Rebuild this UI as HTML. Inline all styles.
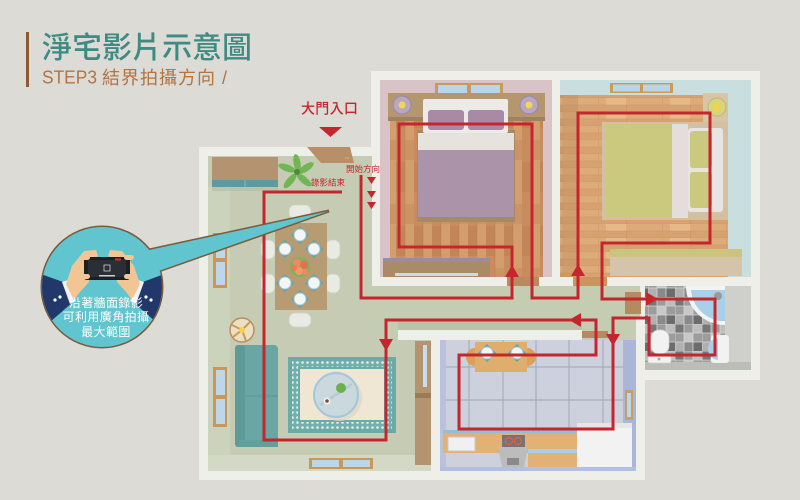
<!DOCTYPE html>
<html><head><meta charset="utf-8">
<style>
html,body{margin:0;padding:0;background:#dcdbd6;}
svg{display:block;}
text{font-family:"Liberation Sans","Noto Sans CJK TC",sans-serif;}
</style></head><body>
<svg width="800" height="500" viewBox="0 0 800 500" xmlns="http://www.w3.org/2000/svg">
<defs>
<pattern id="vplank" width="18" height="64" patternUnits="userSpaceOnUse">
 <rect width="18" height="64" fill="#c98c5f"/>
 <rect x="9" width="9" height="64" fill="#d39d6e"/>
 <rect x="0" y="34" width="9" height="30" fill="#c28558"/>
 <rect x="9" y="12" width="9" height="20" fill="#cc9464"/>
 <rect x="8.6" width="0.8" height="64" fill="#a86c44" opacity=".35"/>
</pattern>
<pattern id="hplank" width="64" height="14" patternUnits="userSpaceOnUse">
 <rect width="64" height="14" fill="#ddab79"/>
 <rect y="7" width="64" height="7" fill="#d7a270"/>
 <rect x="30" y="0" width="20" height="7" fill="#e6ba88"/>
 <rect y="6.6" width="64" height="0.7" fill="#b8825a" opacity=".35"/>
 <rect y="13.6" width="64" height="0.7" fill="#b8825a" opacity=".35"/>
 <rect x="22" y="0" width="0.7" height="7" fill="#b8825a" opacity=".4"/>
 <rect x="50" y="7" width="0.7" height="7" fill="#b8825a" opacity=".4"/>
</pattern>
<pattern id="tile" width="27" height="27" patternUnits="userSpaceOnUse">
 <rect width="27" height="27" fill="#9c9c9c"/>
 <rect width="9" height="9" fill="#767676"/>
 <rect x="18" y="0" width="9" height="9" fill="#bdbdbd"/>
 <rect x="9" y="9" width="9" height="9" fill="#c8c8c8"/>
 <rect x="0" y="18" width="9" height="9" fill="#b0b0b0"/>
 <rect x="18" y="18" width="9" height="9" fill="#6c6c6c"/>
 <rect x="9" y="18" width="9" height="9" fill="#8a8a8a"/>
 <path d="M0 0H27M0 9H27M0 18H27M0 0V27M9 0V27M18 0V27" stroke="#d6d6d6" stroke-width="0.8"/>
</pattern>
<pattern id="rugdot" width="5" height="5" patternUnits="userSpaceOnUse">
 <rect width="5" height="5" fill="#72b0ad"/>
 <circle cx="2.5" cy="2.5" r="1.3" fill="#e9efe8"/>
</pattern>
<clipPath id="bub"><circle cx="102" cy="287" r="60"/></clipPath>
</defs>

<rect width="800" height="500" fill="#dcdbd6"/>

<!-- title -->
<rect x="26" y="32" width="3" height="55" fill="#8b5a32"/>
<text x="42" y="58" font-size="30" fill="#3d8b83" font-weight="500">淨宅影片示意圖</text>
<text x="42" y="83.5" font-size="18" fill="#b27440" textLength="55" lengthAdjust="spacingAndGlyphs">STEP3</text>
<text x="102" y="84" font-size="18" fill="#b27440" letter-spacing="1">結界拍攝方向</text>
<text x="222" y="84" font-size="18" fill="#b27440">/</text>

<!-- entrance -->
<text x="301" y="113.5" font-size="14" fill="#c4262e" font-weight="500" letter-spacing="0.3">大門入口</text>
<polygon points="319,127 342,127 330.5,137" fill="#c4262e"/>

<!-- wall footprints -->
<g fill="#efefea">
<rect x="199" y="147" width="173" height="333"/>
<rect x="371" y="71" width="389" height="215"/>
<rect x="371" y="280" width="274" height="200"/>
<rect x="636" y="280" width="124" height="100"/>
</g>

<!-- living room floor -->
<rect x="208" y="156" width="164" height="315" fill="#c5ccb3"/>
<rect x="372" y="286" width="268" height="54" fill="#c4ccb2"/>
<rect x="372" y="330" width="59" height="141" fill="#c5ccb3"/>
<rect x="208" y="187" width="22" height="268" fill="#ccd3bd"/>
<rect x="208" y="455" width="223" height="16" fill="#d3d9c4"/>
<rect x="398" y="321" width="184" height="9" fill="#bac3a7"/>
<rect x="398" y="330" width="184" height="10" fill="#efefea"/>
<rect x="582" y="331" width="26" height="7" fill="#b48a62"/>

<!-- living top door -->
<polygon points="307,147 350,147 354,163 321,163" fill="#b98f69"/>
<line x1="345" y1="158" x2="349" y2="158" stroke="#e0b060" stroke-width="1"/>

<!-- top-left cabinet -->
<rect x="212" y="157" width="66" height="24" fill="#b49370"/>
<rect x="212" y="180" width="66" height="7" fill="#5d9ba0"/>
<line x1="245" y1="180" x2="245" y2="187" stroke="#8cc0c4" stroke-width="0.8"/>
<rect x="212" y="187" width="66" height="4" fill="#b3baa0" opacity=".6"/>

<!-- plant -->
<g fill="#72b554">
<ellipse cx="297" cy="163" rx="3.5" ry="9" transform="rotate(-10 297 163)"/>
<ellipse cx="306" cy="168" rx="3.5" ry="9" transform="rotate(55 306 168)"/>
<ellipse cx="304" cy="180" rx="3.5" ry="9" transform="rotate(130 304 180)"/>
<ellipse cx="290" cy="181" rx="3.5" ry="9" transform="rotate(-140 290 181)"/>
<ellipse cx="287" cy="168" rx="3.5" ry="9" transform="rotate(-70 287 168)"/>
</g>
<circle cx="297" cy="172" r="3" fill="#4e8a3a"/>

<!-- left windows -->
<rect x="213" y="233" width="14" height="55" fill="#c9975a"/>
<rect x="216" y="236" width="9" height="22" fill="#bcd8e8"/>
<rect x="216" y="262" width="9" height="23" fill="#bcd8e8"/>
<rect x="213" y="367" width="14" height="60" fill="#c9975a"/>
<rect x="216" y="370" width="9" height="25" fill="#bcd8e8"/>
<rect x="216" y="399" width="9" height="25" fill="#bcd8e8"/>
<!-- bottom window -->
<rect x="309" y="458" width="64" height="11" fill="#c9975a"/>
<rect x="312" y="460" width="27" height="7" fill="#bcd8e8"/>
<rect x="343" y="460" width="27" height="7" fill="#bcd8e8"/>

<!-- dining chairs -->
<g fill="#e9eae2" stroke="#cfd1c6" stroke-width="0.8">
<rect x="289" y="205" width="22" height="14" rx="6"/>
<rect x="289" y="313" width="22" height="14" rx="6"/>
<rect x="261" y="240" width="14" height="19" rx="6"/>
<rect x="261" y="274" width="14" height="19" rx="6"/>
<rect x="326" y="240" width="14" height="19" rx="6"/>
<rect x="326" y="274" width="14" height="19" rx="6"/>
</g>
<!-- dining table -->
<rect x="275" y="223" width="52" height="87" fill="#b69b73"/>
<g>
<polygon points="300,226 309,235 300,244 291,235" fill="#5fa5aa"/><circle cx="300" cy="235" r="6" fill="#f4f6f6" stroke="#9fc7d7"/>
<polygon points="285,240 294,249 285,258 276,249" fill="#5fa5aa"/><circle cx="285" cy="249" r="6" fill="#f4f6f6" stroke="#9fc7d7"/>
<polygon points="314,240 323,249 314,258 305,249" fill="#5fa5aa"/><circle cx="314" cy="249" r="6" fill="#f4f6f6" stroke="#9fc7d7"/>
<polygon points="285,274 294,283 285,292 276,283" fill="#5fa5aa"/><circle cx="285" cy="283" r="6" fill="#f4f6f6" stroke="#9fc7d7"/>
<polygon points="314,274 323,283 314,292 305,283" fill="#5fa5aa"/><circle cx="314" cy="283" r="6" fill="#f4f6f6" stroke="#9fc7d7"/>
<polygon points="300,290 309,299 300,308 291,299" fill="#5fa5aa"/><circle cx="300" cy="299" r="6" fill="#f4f6f6" stroke="#9fc7d7"/>
</g>
<circle cx="300" cy="267" r="10" fill="#7fb25a"/>
<circle cx="297" cy="263" r="4" fill="#ef8a60"/>
<circle cx="304" cy="265" r="4" fill="#e8704f"/>
<circle cx="299" cy="271" r="4" fill="#f09a6c"/>
<circle cx="294" cy="268" r="3" fill="#e87a55"/>
<circle cx="305" cy="272" r="3" fill="#ef8a60"/>

<!-- lamp -->
<circle cx="242" cy="330" r="12" fill="#ece0c4" stroke="#b8905a" stroke-width="1.5"/>
<path d="M242 330 L232 325 M242 330 L250 322 M242 330 L246 341 M242 330 L233 337" stroke="#c89a5a" stroke-width="2"/>
<circle cx="242" cy="330" r="3" fill="#f3d34a"/>

<!-- sofa -->
<rect x="235" y="345" width="43" height="102" rx="4" fill="#6aa6a4"/>
<rect x="235" y="345" width="10" height="102" rx="3" fill="#5e9a98"/>
<line x1="245" y1="396" x2="278" y2="396" stroke="#5a9593" stroke-width="1"/>
<rect x="239" y="440" width="39" height="7" fill="#62a09e"/>

<!-- rug -->
<rect x="288" y="357" width="108" height="76" fill="#6aaba8"/>
<rect x="292" y="361" width="100" height="68" fill="url(#rugdot)"/>
<rect x="298" y="367" width="88" height="55" fill="#6aaba8"/>
<rect x="300" y="369" width="84" height="51" fill="#efe6d4"/>
<circle cx="339" cy="398" r="23" fill="#ddd5c4" opacity=".7"/>
<circle cx="336" cy="395" r="22" fill="#cbd8de" stroke="#a3c6dc" stroke-width="2"/>
<line x1="320" y1="405" x2="352" y2="384" stroke="#b8ccd6" stroke-width="3"/>
<circle cx="341" cy="388" r="5" fill="#6cb04a"/>
<circle cx="327" cy="401" r="3.5" fill="#f2f2f2"/>
<circle cx="327" cy="401" r="1.8" fill="#7a5038"/>

<!-- left-of-kitchen panel and cabinet -->
<rect x="415" y="341" width="16" height="52" fill="#b49470"/>
<rect x="423" y="345" width="4" height="42" fill="#c8dcec"/>
<rect x="415" y="393" width="16" height="72" fill="#b49470"/>
<rect x="415" y="393" width="16" height="5" fill="#9c7a56"/>

<!-- kitchen -->
<rect x="440" y="340" width="196" height="131" fill="#cdd1dd"/>
<rect x="440" y="340" width="6" height="131" fill="#b9c1dc"/>
<rect x="623" y="340" width="13" height="131" fill="#aab5d8"/>
<g stroke="#a9aebd" stroke-width="1.2">
<line x1="469" y1="340" x2="469" y2="430"/>
<line x1="503" y1="340" x2="503" y2="430"/>
<line x1="536" y1="340" x2="536" y2="430"/>
<line x1="569" y1="340" x2="569" y2="430"/>
<line x1="603" y1="340" x2="603" y2="430"/>
<line x1="446" y1="367" x2="623" y2="367"/>
<line x1="446" y1="400" x2="623" y2="400"/>
</g>
<rect x="625" y="390" width="8" height="30" fill="#c9a060"/>
<rect x="627" y="393" width="4" height="24" fill="#bcd8e8"/>
<!-- kitchen dining -->
<path d="M475 348 A9 9 0 0 0 475 366 Z" fill="#dca05a"/>
<path d="M527 348 A9 9 0 0 1 527 366 Z" fill="#dca05a"/>
<rect x="475" y="342" width="52" height="30" fill="#e0ae6c"/>
<polygon points="487,344 496,353 487,362 478,353" fill="#5fa5aa"/><circle cx="487" cy="353" r="6" fill="#f4f6f6" stroke="#9fc7d7"/>
<polygon points="517,344 526,353 517,362 508,353" fill="#5fa5aa"/><circle cx="517" cy="353" r="6" fill="#f4f6f6" stroke="#9fc7d7"/>
<!-- counters -->
<rect x="443" y="430" width="140" height="23" fill="#e2b274"/>
<rect x="443" y="430" width="140" height="3" fill="#8fc0d8"/>
<rect x="448" y="437" width="27" height="14" fill="#f0f0f0" stroke="#c8c8c8"/>
<rect x="502" y="435" width="23" height="12" fill="#7a7272"/>
<circle cx="509" cy="441" r="3.5" fill="none" stroke="#e0604a" stroke-width="1.2"/>
<circle cx="518" cy="441" r="3.5" fill="none" stroke="#e0604a" stroke-width="1.2"/>
<polygon points="498,447 528,447 524,467 502,467" fill="#bcbcbc"/>
<rect x="507" y="458" width="12" height="7" fill="#8a8a8a"/>
<rect x="528" y="449" width="65" height="18" fill="#e2b274"/>
<rect x="528" y="449" width="65" height="4" fill="#a8d0e0"/>
<rect x="577" y="423" width="55" height="44" fill="#f2f2f2"/>
<rect x="577" y="423" width="55" height="5" fill="#e6e6e6"/>
<rect x="440" y="467" width="196" height="4" fill="#b3bfe0"/>

<!-- bathroom -->
<rect x="645" y="286" width="80" height="78" fill="url(#tile)"/>
<rect x="725" y="286" width="26" height="84" fill="#cfcfcb"/>
<rect x="645" y="362" width="106" height="8" fill="#bdbdb8"/>
<path d="M725 286 L686 286 A39 39 0 0 0 725 325 Z" fill="#f2f4f4"/>
<path d="M725 290 L691 290 A34 34 0 0 0 721 321 L725 321 Z" fill="#a9d0e8"/>
<circle cx="718" cy="296" r="4" fill="#9a9a9a"/>
<rect x="711" y="335" width="18" height="28" rx="3" fill="#f2f2f2"/>
<path d="M718 338 A10 11 0 0 0 718 360 Z" fill="#a9d0e8"/>
<rect x="651" y="330" width="18" height="24" rx="8" fill="#f2f2f2" stroke="#d0d0d0" stroke-width="0.8"/>
<rect x="648" y="354" width="23" height="9" rx="2" fill="#f2f2f2" stroke="#d0d0d0" stroke-width="0.8"/>
<circle cx="659" cy="359" r="1.5" fill="#aaa"/>
<rect x="636" y="318" width="9" height="62" fill="#efefea"/>
<rect x="625" y="292" width="16" height="22" fill="#b68a60"/>

<!-- master bedroom -->
<rect x="380" y="80" width="172" height="197" fill="#d8c3c7"/>
<rect x="390" y="117" width="153" height="160" fill="url(#vplank)"/>
<rect x="435" y="83" width="68" height="12" fill="#c99a5a"/>
<rect x="438" y="85" width="29" height="8" fill="#b7d6ea"/>
<rect x="471" y="85" width="29" height="8" fill="#b7d6ea"/>
<rect x="388" y="93" width="157" height="27" fill="#b4966f"/>
<rect x="388" y="117" width="157" height="4" fill="#9e8260"/>
<circle cx="402" cy="105" r="9" fill="#b9a6c1" stroke="#9c89a8" stroke-width="1.2"/>
<circle cx="402" cy="105" r="3.5" fill="#f0d850"/>
<circle cx="529" cy="105" r="9" fill="#b9a6c1" stroke="#9c89a8" stroke-width="1.2"/>
<circle cx="529" cy="105" r="3.5" fill="#f0d850"/>
<rect x="417" y="130" width="98" height="92" fill="#a68a68"/>
<rect x="423" y="99" width="85" height="34" rx="2" fill="#ecebe8"/>
<rect x="428" y="110" width="36" height="20" rx="3" fill="#a98aa6"/>
<rect x="468" y="110" width="36" height="20" rx="3" fill="#a98aa6"/>
<rect x="418" y="133" width="96" height="17" fill="#e6e3de"/>
<rect x="418" y="150" width="96" height="67" fill="#ab94a9"/>
<rect x="383" y="258" width="107" height="19" fill="#a98c67"/>
<rect x="383" y="258" width="107" height="4" fill="#9c8ba0"/>
<rect x="395" y="273" width="83" height="3" fill="#c8dce8"/>

<!-- second bedroom -->
<rect x="560" y="80" width="191" height="197" fill="#c9dfdf"/>
<rect x="560" y="95" width="168" height="182" fill="url(#hplank)"/>
<rect x="560" y="95" width="18" height="182" fill="#b98a5e" opacity=".35"/>
<rect x="610" y="83" width="63" height="10" fill="#c99a5a"/>
<rect x="613" y="84.5" width="27" height="7" fill="#b7d6ea"/>
<rect x="643" y="84.5" width="27" height="7" fill="#b7d6ea"/>
<rect x="703" y="93" width="25" height="29" fill="#d8c4a8"/>
<circle cx="717" cy="107" r="9" fill="#d9d57c" stroke="#bfbc78" stroke-width="1.2"/>
<circle cx="717" cy="107" r="3.5" fill="#f3d34a"/>
<rect x="602" y="122" width="126" height="98" fill="#d5bfa2"/>
<rect x="606" y="124" width="66" height="94" fill="#cbc97e"/>
<rect x="672" y="124" width="16" height="94" fill="#e3dedb"/>
<rect x="688" y="128" width="35" height="84" rx="3" fill="#e8e4e1"/>
<rect x="690" y="131" width="22" height="37" rx="3" fill="#cbc97e"/>
<rect x="690" y="172" width="22" height="36" rx="3" fill="#cbc97e"/>
<rect x="610" y="249" width="132" height="27" fill="#d5c3aa"/>
<rect x="610" y="249" width="132" height="8" fill="#cac47e"/>

<!-- door gaps in bedroom bottom wall -->
<rect x="507" y="277" width="32" height="9" fill="#b98960"/>
<rect x="573" y="277" width="34" height="9" fill="#c8955f"/>

<!-- red path -->
<polyline points="361,175 361,298 512,298 512,247 399,247 399,124 532,124 532,298 578,298 578,113 710,113 710,243 602,243 602,299 715,299 715,355 649,355 649,318 613,318 613,429 459,429 459,355 596,355 596,320 386,320 386,440 264,440 264,192 342,192" fill="none" stroke="#c5262d" stroke-width="3"/>
<g fill="#c5262d">
<polygon points="512,265 505,277 519,277"/>
<polygon points="578,264 571,276 585,276"/>
<polygon points="658,299 646,292 646,306"/>
<polygon points="613,346 606,334 620,334"/>
<polygon points="569,320 581,313 581,327"/>
<polygon points="386,351 379,339 393,339"/>
<polygon points="367,177 376,177 371.5,184"/>
<polygon points="367,191 376,191 371.5,198"/>
<polygon points="367,202 376,202 371.5,209"/>
</g>
<text x="346" y="172" font-size="8.5" fill="#c4262e">開始方向</text>
<text x="311" y="185.5" font-size="8.5" fill="#c4262e">錄影結束</text>

<!-- callout bubble -->
<circle cx="102" cy="287" r="60" fill="none" stroke="#7b5a3c" stroke-width="3"/>
<polygon points="140,252 329,211 150,274" fill="none" stroke="#7b5a3c" stroke-width="3" stroke-linejoin="miter"/>
<circle cx="102" cy="287" r="60" fill="#60c5ce"/>
<polygon points="140,252 329,211 150,274" fill="#60c5ce"/>

<g clip-path="url(#bub)">
<!-- sleeves -->
<polygon points="35,272 66,283 73,302 50,322 35,322" fill="#22386a"/>
<polygon points="62,282 68,280 76,301 70,304" fill="#eef2f6"/>
<circle cx="55" cy="300" r="1.6" fill="#fff"/><circle cx="60" cy="297" r="1.6" fill="#fff"/>
<polygon points="170,272 140,283 133,302 156,322 170,322" fill="#22386a"/>
<polygon points="144,282 138,280 130,301 136,304" fill="#eef2f6"/>
<circle cx="151" cy="300" r="1.6" fill="#fff"/><circle cx="146" cy="297" r="1.6" fill="#fff"/>
</g>
<!-- hands -->
<polygon points="66,284 72,266 84,251 96,250 98,256 90,260 89,282 80,292 74,300" fill="#f2c595"/>
<polygon points="140,284 134,266 122,251 110,250 108,256 116,260 117,282 126,292 132,300" fill="#f2c595"/>
<rect x="84" y="257" width="46" height="23" rx="3" fill="#1c1f24"/>
<rect x="88" y="260" width="38" height="17" fill="#2a2e35"/>
<rect x="115" y="258.5" width="6" height="2" fill="#d03030"/>
<rect x="104" y="265" width="6" height="6" fill="none" stroke="#cfcfcf" stroke-width="0.8"/>
<rect x="99" y="275" width="16" height="1.5" fill="#cfcfcf"/>
<rect x="80" y="255" width="10" height="5" rx="2.5" fill="#f2c595"/>
<rect x="79" y="274" width="11" height="5" rx="2.5" fill="#f2c595"/>
<rect x="124" y="255" width="10" height="5" rx="2.5" fill="#f2c595"/>
<rect x="124" y="274" width="11" height="5" rx="2.5" fill="#f2c595"/>

<g fill="#ffffff" font-size="12" text-anchor="middle" letter-spacing="0.4">
<text x="106" y="307">沿著牆面錄影</text>
<text x="106" y="321">可利用廣角拍攝</text>
<text x="106" y="336">最大範圍</text>
</g>
</svg>
</body></html>
